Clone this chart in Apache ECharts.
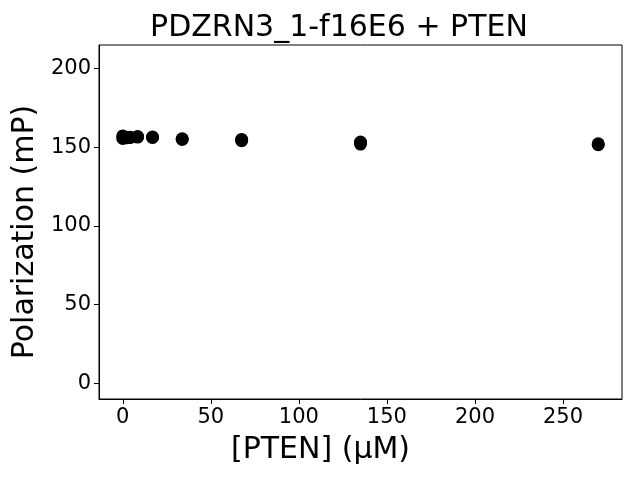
<!DOCTYPE html>
<html><head><meta charset="utf-8">
<script src="https://cdn.jsdelivr.net/npm/echarts@6/dist/echarts.min.js"></script>
<style>html,body{margin:0;padding:0;background:#fff}#c{width:640px;height:480px}</style>
</head><body><div id="c"></div>
<script>
const title = 'PDZRN3_1-f16E6 + PTEN';
const xLabel = '[PTEN] (μM)';
const yLabel = 'Polarization (mP)';
const concentrations = [0, 0, 2.1, 2.1, 4.2, 4.2, 8.4, 8.4, 16.9, 16.9, 33.75, 33.75, 67.5, 67.5, 135, 135, 270, 270];
const polarization = [157.2, 155.6, 156.3, 156.0, 156.4, 156.2, 156.8, 156.5, 156.5, 156.2, 155.4, 155.0, 155.0, 154.2, 153.3, 152.0, 152.2, 151.6];
const xTicks = [0, 50, 100, 150, 200, 250];
const yTicks = [0, 50, 100, 150, 200];

const points = concentrations.map((c, i) => [c, polarization[i]]);
const font = 'DejaVu Sans';
const chart = echarts.init(document.getElementById('c'), null, {renderer: 'canvas'});
chart.setOption({
  animation: false,
  backgroundColor: '#fff',
  title: {text: title, left: 334, textAlign: 'center', top: 8, textStyle: {fontFamily: font, fontSize: 30, fontWeight: 'normal', color: '#000'}},
  grid: {left: 99, right: 18, top: 45, bottom: 81, show: true, borderColor: '#000', borderWidth: 1},
  xAxis: {
    type: 'value', min: -13.5, max: 283.5,
    name: xLabel, nameLocation: 'middle', nameGap: 36,
    nameTextStyle: {fontFamily: font, fontSize: 30, color: '#000', padding: [0, 80, 0, 0]},
    splitLine: {show: false},
    axisLine: {show: true, onZero: false, lineStyle: {color: '#000', width: 1}},
    axisTick: {show: true, inside: false, length: 5, customValues: xTicks, lineStyle: {color: '#000'}},
    axisLabel: {customValues: xTicks, fontFamily: font, fontSize: 21, color: '#000', margin: 8}
  },
  yAxis: {
    type: 'value', min: -10, max: 215,
    name: yLabel, nameLocation: 'middle', nameGap: 53,
    nameTextStyle: {fontFamily: font, fontSize: 30, color: '#000', padding: [0, 20, 0, 0]},
    splitLine: {show: false},
    axisLine: {show: true, onZero: false, lineStyle: {color: '#000', width: 1}},
    axisTick: {show: true, inside: false, length: 5, customValues: yTicks, lineStyle: {color: '#000'}},
    axisLabel: {customValues: yTicks, fontFamily: font, fontSize: 21, color: '#000', margin: 8}
  },
  series: [{
    type: 'scatter', data: points, symbol: 'circle', symbolSize: 13,
    itemStyle: {color: '#000', opacity: 1}
  }]
});
</script></body></html>
